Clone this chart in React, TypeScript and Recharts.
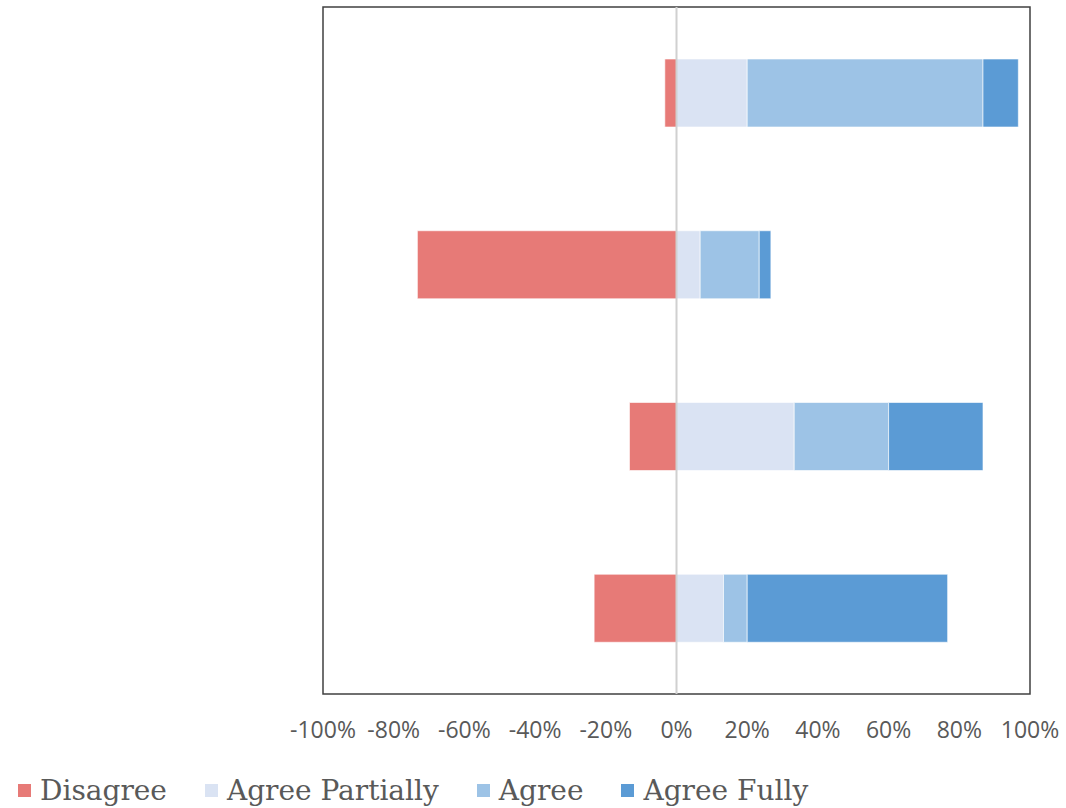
import { Bar, BarChart, Legend, ReferenceArea, ReferenceLine, XAxis, YAxis } from "recharts";

// one row per statement (category labels are not shown in the chart)
const statements = ["S1", "S2", "S3", "S4"];

// shares in percent, disagree drawn to the left of zero
const disagree = [-3.3, -73.3, -13.3, -23.3];
const agreePartially = [20, 6.7, 33.3, 13.3];
const agree = [66.7, 16.7, 26.7, 6.7];
const agreeFully = [10, 3.3, 26.7, 56.7];

const xTicks = [-100, -80, -60, -40, -20, 0, 20, 40, 60, 80, 100];

const SERIES = [
  { key: "disagree", label: "Disagree", color: "#E77A77" },
  { key: "agreePartially", label: "Agree Partially", color: "#DAE3F3" },
  { key: "agree", label: "Agree", color: "#9DC3E6" },
  { key: "agreeFully", label: "Agree Fully", color: "#5B9BD5" },
];

const data = statements.map((name, i) => ({
  name,
  disagree: disagree[i],
  agreePartially: agreePartially[i],
  agree: agree[i],
  agreeFully: agreeFully[i],
}));

// legend laid out by hand, in series order, so it matches the export
function renderLegend() {
  return (
    <div style={{ display: "flex", gap: 38, paddingLeft: 18, paddingTop: 22, whiteSpace: "nowrap" }}>
      {SERIES.map((s) => (
        <div key={s.key} style={{ display: "flex", alignItems: "center" }}>
          <span
            style={{
              display: "inline-block",
              width: 13,
              height: 13,
              marginRight: 9,
              background: s.color,
            }}
          />
          <span
            style={{
              fontFamily: "'DejaVu Serif', serif",
              fontSize: 28,
              color: "#595959",
            }}
          >
            {s.label}
          </span>
        </div>
      ))}
    </div>
  );
}

export default function App() {
  return (
    <div style={{ position: "absolute", left: 0, top: 0, background: "#fff" }}>
      <BarChart
        width={1066}
        height={808}
        data={data}
        layout="vertical"
        stackOffset="sign"
        margin={{ top: 7, right: 36, left: 323, bottom: 10 }}
      >
        <XAxis
          type="number"
          domain={[-100, 100]}
          ticks={xTicks}
          tickFormatter={(v: number) => `${v}%`}
          axisLine={false}
          tickLine={false}
          height={58}
          tickMargin={22}
          tick={{ fontSize: 23, fill: "#595959", fontFamily: "'Open Sans', sans-serif" }}
          interval={0}
        />
        <YAxis type="category" dataKey="name" hide />
        {SERIES.map((s) => (
          <Bar
            key={s.key}
            dataKey={s.key}
            name={s.label}
            stackId="a"
            fill={s.color}
            stroke="#ffffff"
            strokeOpacity={0.6}
            strokeWidth={1}
            barSize={68}
            isAnimationActive={false}
          />
        ))}
        <ReferenceLine x={0} stroke="#D0D0D0" strokeWidth={2} />
        <ReferenceArea
          x1={-100}
          x2={100}
          fill="none"
          stroke="#404040"
          strokeWidth={1.5}
          ifOverflow="visible"
        />
        <Legend
          verticalAlign="bottom"
          align="left"
          height={46}
          wrapperStyle={{ left: 0, width: 1066 }}
          content={renderLegend}
        />
      </BarChart>
    </div>
  );
}
